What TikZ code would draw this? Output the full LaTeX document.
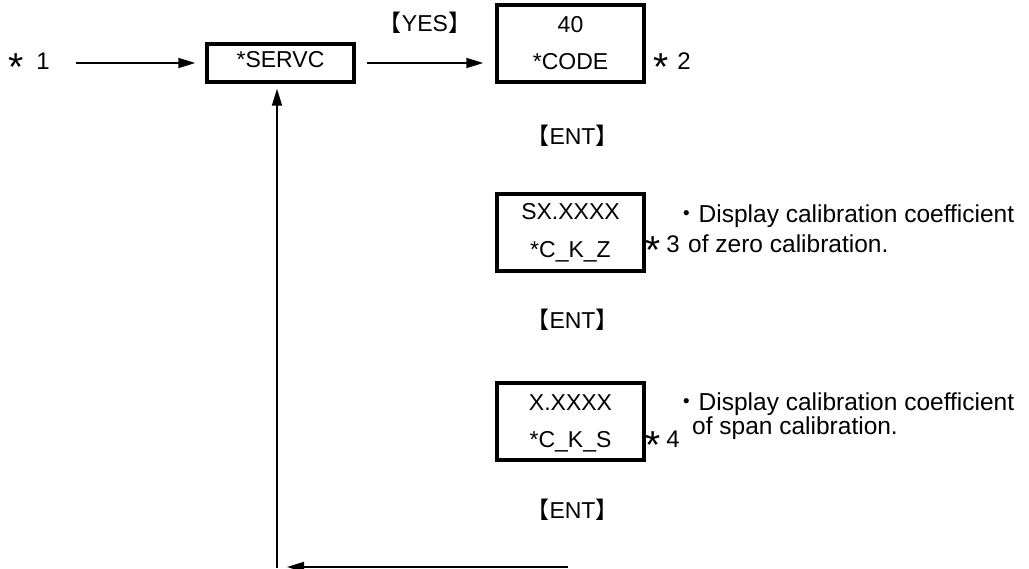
\documentclass[tikz,border=0pt]{standalone}
\usepackage{fontspec}
\setmainfont{Liberation Sans}
\newfontfamily\cjk{Noto Sans CJK JP}
\usetikzlibrary{arrows.meta}
\newcommand{\zlb}{{\cjk 【}}
\newcommand{\zrb}{{\cjk 】}}
\newcommand{\zast}[1]{\raisebox{-11pt}{\fontsize{39}{39}\selectfont *}\hspace{#1}}
\newcommand{\zdot}{{\cjk ・}}
\begin{document}
\begin{tikzpicture}[x=1pt,y=-1pt,
  box/.style={draw, line width=3.5pt, minimum width=147pt, minimum height=77pt, inner sep=0pt},
  sbox/.style={draw, line width=3.5pt, minimum width=147pt, minimum height=38pt,
    inner sep=0pt, font=\fontsize{23}{26}\selectfont, text height=10pt, text depth=0pt},
  btxt/.style={inner sep=0pt, anchor=base, font=\fontsize{23}{26}\selectfont},
  lbl/.style={inner sep=0pt, font=\fontsize{23}{28}\selectfont},
  star/.style={inner sep=0pt, anchor=base west, font=\fontsize{24}{28}\selectfont},
  desc/.style={inner sep=0pt, font=\fontsize{24.5}{30}\selectfont},
  arr/.style={line width=1.8pt, -{Triangle[length=17pt,width=10pt]}}
]
\useasboundingbox (0,0) rectangle (1029,569);

\node[star] (s1) at (8,70) {\zast{13pt}1};
\node[sbox] (servc) at (280.5,63) {*SERVC};
\node[lbl, anchor=base] (yes) at (425,32) {\zlb YES\zrb};
\node[box] (code) at (570.5,43.5) {};
\node[btxt] (code1) at (570.5,33) {40};
\node[btxt] (code2) at (570.5,70) {*CODE};
\node[star] (s2) at (653,70) {\zast{9pt}2};

\node[lbl, anchor=base] (ent1) at (572.5,145) {\zlb ENT\zrb};

\node[box] (ckz) at (570.5,232.5) {};
\node[btxt] (ckz1) at (570.5,220) {SX.XXXX};
\node[btxt] (ckz2) at (570.5,258) {*C\_K\_Z};
\node[star] (s3) at (645,253) {\zast{6pt}3};
\node[desc, anchor=base west] (d3a) at (674,223) {\zdot Display calibration coefficient};
\node[desc, anchor=base west] (d3b) at (688,253) {of zero calibration.};

\node[lbl, anchor=base] (ent2) at (572.5,329) {\zlb ENT\zrb};

\node[box] (cks) at (570.5,421.5) {};
\node[btxt] (cks1) at (570.5,410) {X.XXXX};
\node[btxt] (cks2) at (570.5,448) {*C\_K\_S};
\node[star] (s4) at (645,448) {\zast{6pt}4};
\node[desc, anchor=base west] (d4a) at (674,410) {\zdot Display calibration coefficient};
\node[desc, anchor=base west] (d4b) at (692,435) {of span calibration.};

\node[lbl, anchor=base] (ent3) at (572.5,518) {\zlb ENT\zrb};

\coordinate (br) at (568,567);
\coordinate (bl) at (277,567);

\draw[arr, shorten <=26pt, shorten >=10pt] (servc.west -| s1.east) -- (servc.west);
\draw[arr, shorten <=11pt, shorten >=12pt] (servc.east) -- (servc.east -| code.west);
\draw[arr, shorten >=10pt] (br) -- (bl);
\draw[line width=1.8pt] (bl) -- ++(0,1);
\draw[arr, shorten >=5pt] (bl) -- (bl |- servc.south);
\end{tikzpicture}
\end{document}
